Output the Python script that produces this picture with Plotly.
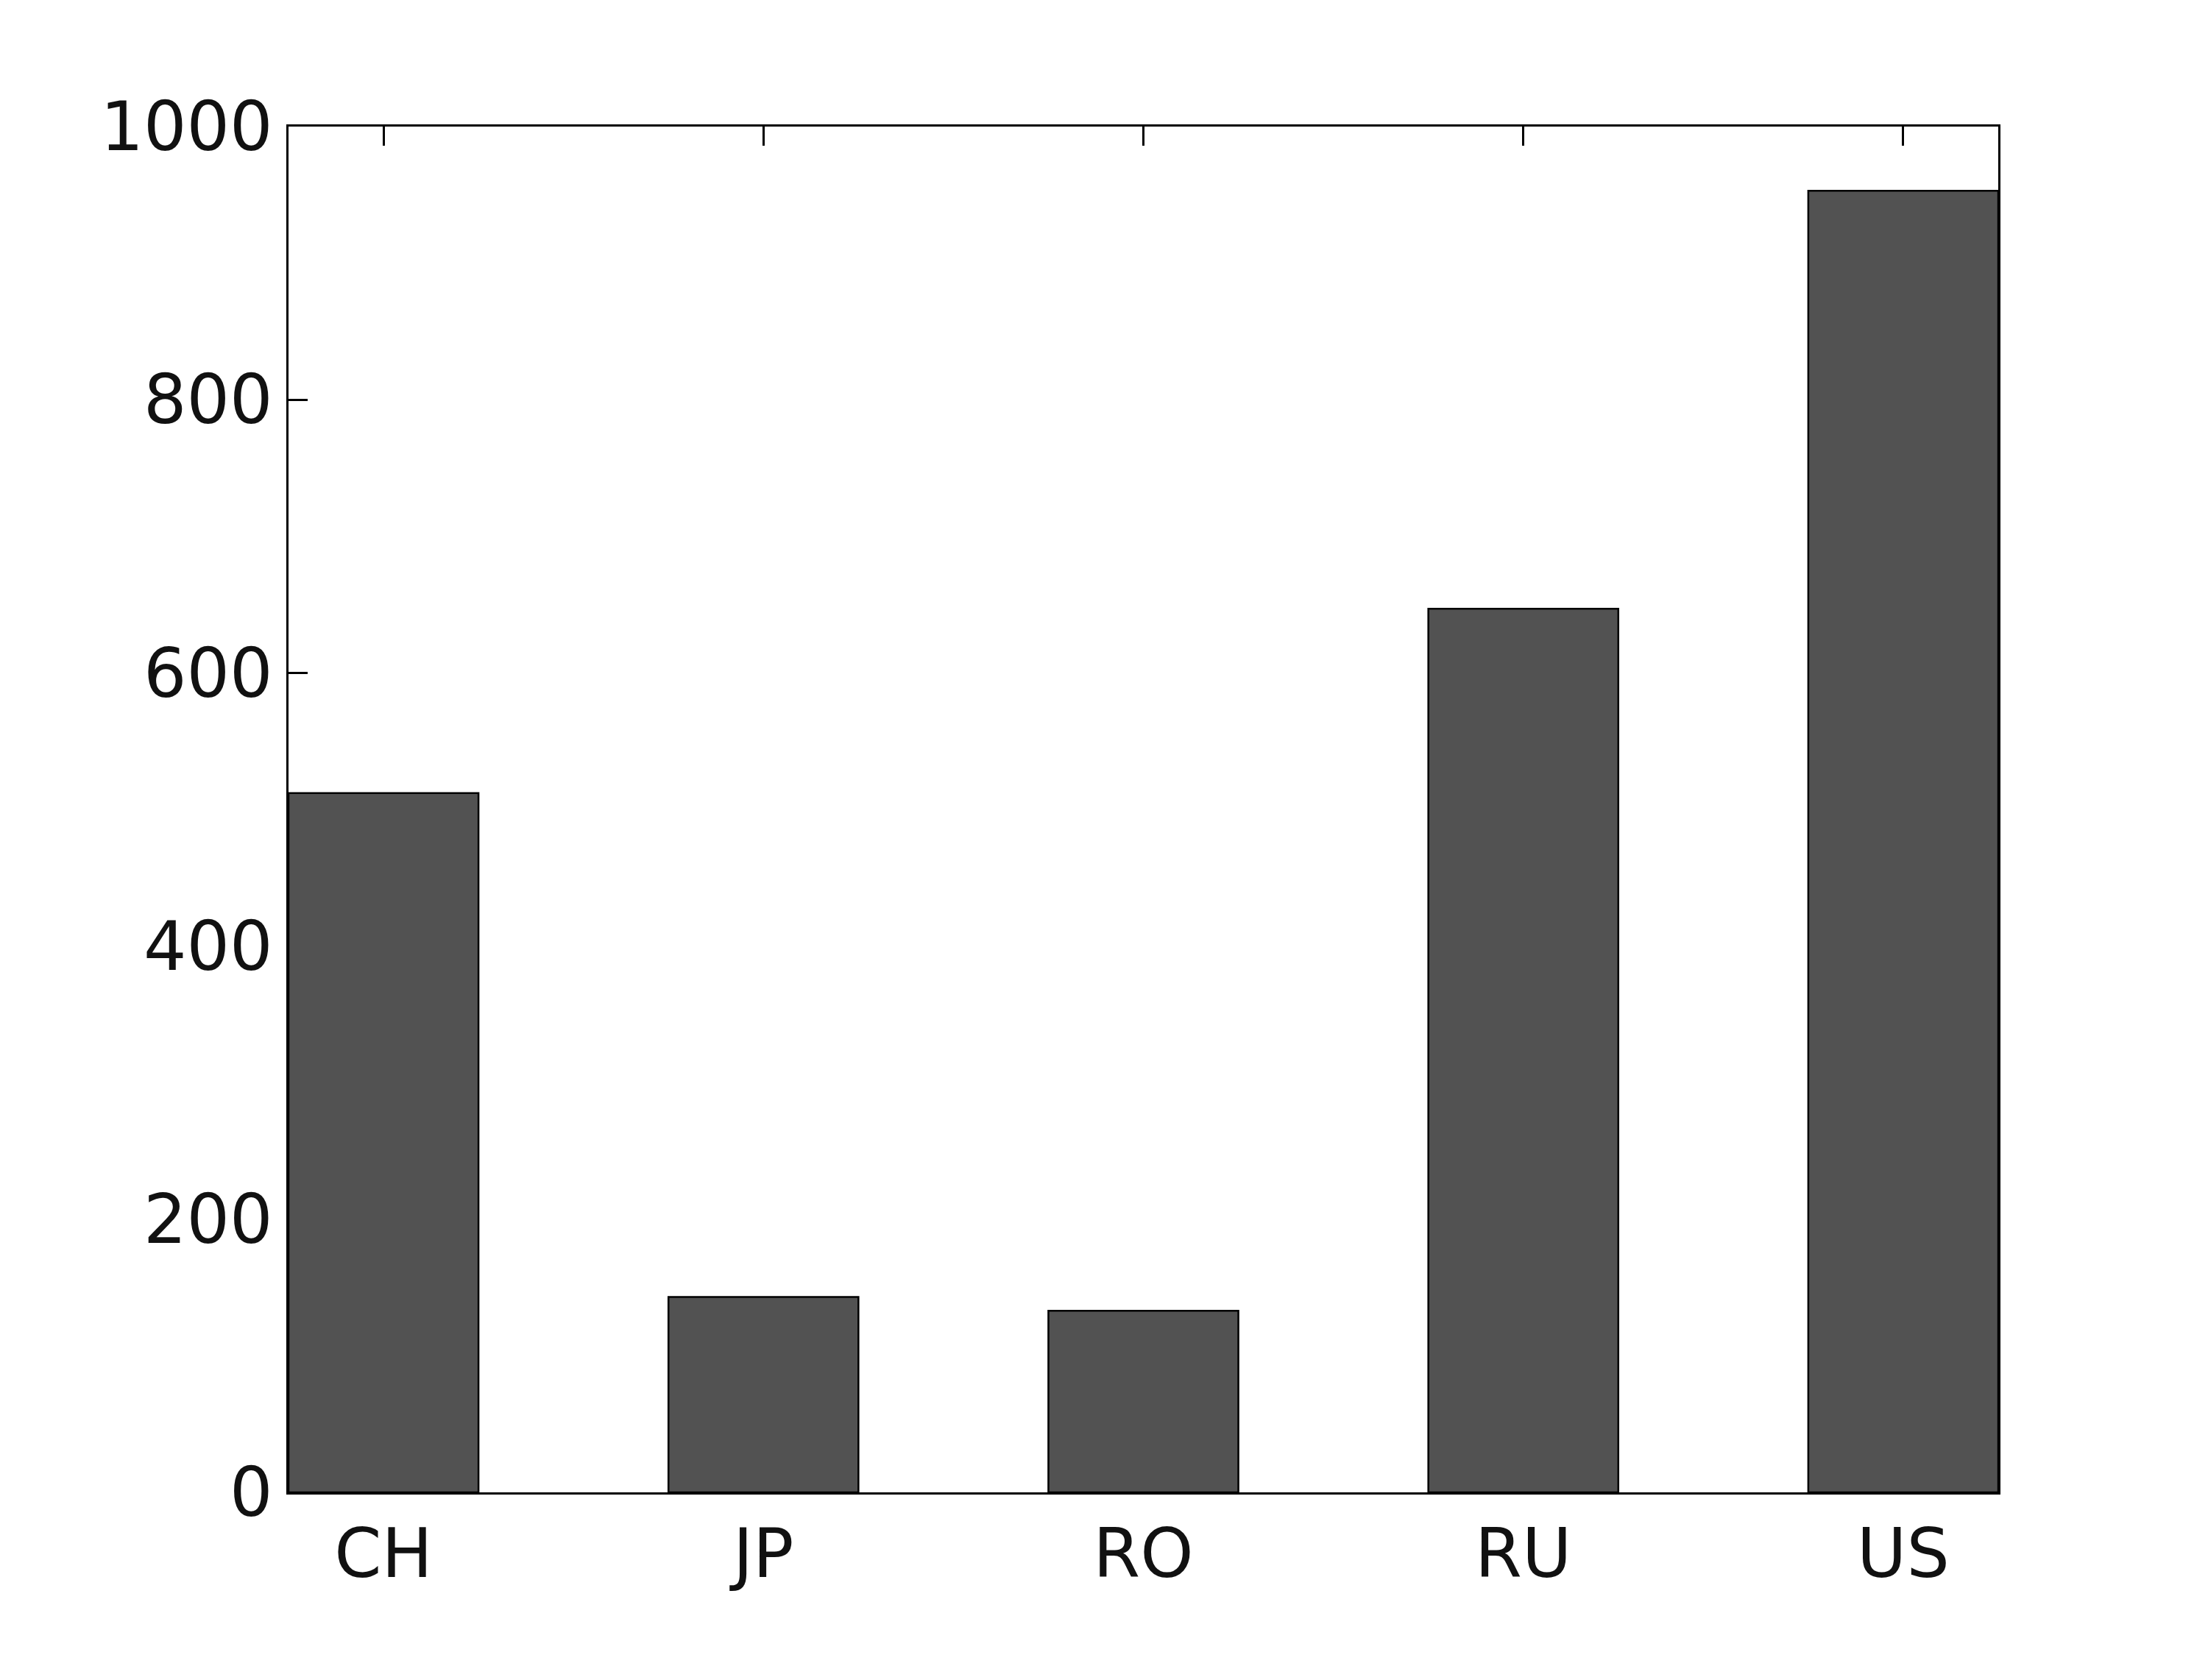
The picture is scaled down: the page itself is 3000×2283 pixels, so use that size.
import plotly.graph_objects as go

categories = ["CH", "JP", "RO", "RU", "US"]
values = [512, 143, 133, 647, 953]
y_ticks = [0, 200, 400, 600, 800, 1000]

positions = list(range(1, len(categories) + 1))
font = dict(family="DejaVu Sans", size=92, color="#111111")

fig = go.Figure()
fig.add_trace(go.Bar(
    x=positions, y=values, width=0.5,
    marker=dict(color="#525252", line=dict(color="black", width=2.5)),
    showlegend=False,
))
# invisible trace for top axis
fig.add_trace(go.Scatter(x=positions, y=[None]*len(positions), xaxis="x2", showlegend=False, hoverinfo="skip"))

fig.update_layout(
    width=3000, height=2283,
    margin=dict(l=384, r=293, t=164, b=263),
    plot_bgcolor="white", paper_bgcolor="white",
    xaxis=dict(
        range=[0.75, 5.25], tickvals=positions, ticktext=categories,
        showline=True, linecolor="black", linewidth=3, mirror=False,
        ticks="", showgrid=False, zeroline=False, tickfont=font,
        ticklabelstandoff=2, layer="below traces",
    ),
    xaxis2=dict(
        overlaying="x", side="top", range=[0.75, 5.25], tickvals=positions,
        showticklabels=False, ticks="inside", ticklen=26, tickwidth=3,
        tickcolor="black", showline=True, linecolor="black", linewidth=3,
        showgrid=False, zeroline=False, layer="below traces",
    ),
    yaxis=dict(
        range=[0, 1000], tickvals=y_ticks, showline=True, linecolor="black",
        linewidth=3, mirror="ticks", ticks="inside", ticklen=26, tickwidth=3,
        tickcolor="black", showgrid=False, zeroline=False, tickfont=font,
        ticklabelstandoff=0, layer="below traces",
    ),
)

fig.write_html("out.html")
